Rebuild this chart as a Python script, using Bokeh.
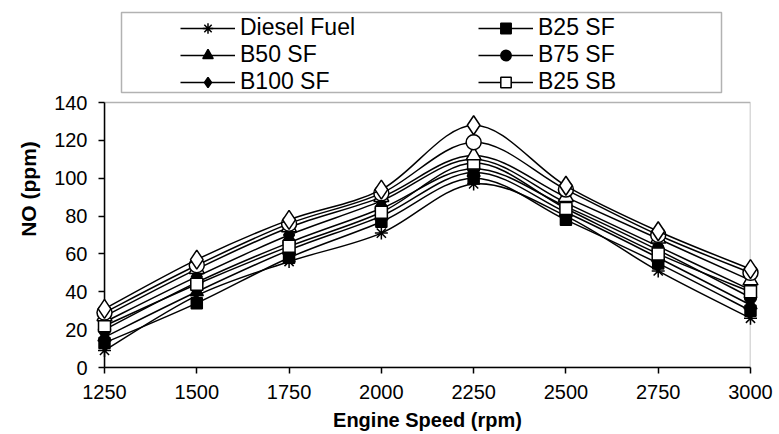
import numpy as np
from bokeh.plotting import figure
from bokeh.models import (Range1d, FixedTicker, Legend, LegendItem, BoxAnnotation,
                          ColumnDataSource, Title)
from bokeh.embed import file_html
from bokeh.resources import INLINE

# ---- data ----
speeds = [1250, 1500, 1750, 2000, 2250, 2500, 2750, 3000]
diesel_fuel = [9, 38, 56, 71, 97, 80, 51, 26]
b25_sf = [13, 34, 58, 77, 100, 78, 55, 30]
b50_sf = [16, 40, 62, 80, 103, 82, 58, 33]
b75_sf = [20, 45, 66, 84, 105, 85, 62, 37]
b100_sf = [24, 48, 70, 88, 110, 87, 64, 41]
b25_sb = [22, 44, 64, 82, 108, 84, 60, 40]
b50_sb = [27, 52, 74, 90, 112, 90, 68, 46]
b75_sb = [29, 54, 76, 92, 119, 94, 70, 50]
b100_sb = [31, 57, 78, 94, 128, 96, 72, 52]

series_names = ["Diesel Fuel", "B25 SF", "B50 SF", "B75 SF", "B100 SF",
                "B25 SB", "B50 SB", "B75 SB", "B100 SB"]
series_values = [diesel_fuel, b25_sf, b50_sf, b75_sf, b100_sf,
                 b25_sb, b50_sb, b75_sb, b100_sb]
legend_names = ["Diesel Fuel", "B25 SF", "B50 SF", "B75 SF", "B100 SF", "B25 SB"]

x_ticks = [1250, 1500, 1750, 2000, 2250, 2500, 2750, 3000]
y_ticks = [0, 20, 40, 60, 80, 100, 120, 140]
x_min, x_max = 1250, 3000
y_min, y_max = 0, 140

# ---- styles ----
styles = {
    "Diesel Fuel": dict(marker="asterisk", size=13, fill="black"),
    "B25 SF": dict(marker="square", size=11, fill="black"),
    "B50 SF": dict(marker="triangle", size=13, fill="black"),
    "B75 SF": dict(marker="circle", size=12, fill="black"),
    "B100 SF": dict(marker="diamond", size=16, fill="black"),
    "B25 SB": dict(marker="square", size=12, fill="white"),
    "B50 SB": dict(marker="triangle", size=15, fill="white"),
    "B75 SB": dict(marker="circle", size=15, fill="white"),
    "B100 SB": dict(marker="diamond", size=19, fill="white"),
}

FONT = "Liberation Sans"

# plot area: y 0..140 spans 265 px; frame extends 92 px above it for the legend
y_top = y_max + 92 * (y_max - y_min) / 265

p = figure(width=779, height=434,
           x_range=Range1d(x_min, x_max), y_range=Range1d(y_min, y_top),
           output_backend="svg", toolbar_location=None,
           min_border_left=104, min_border_right=29,
           min_border_top=10, min_border_bottom=67)
p.outline_line_color = None
p.grid.visible = False
p.background_fill_color = "white"
p.border_fill_color = "white"

# axes
xa = p.xaxis[0]
xa.ticker = FixedTicker(ticks=x_ticks)
xa.axis_label = "Engine Speed (rpm)"
ya = p.yaxis[0]
ya.ticker = FixedTicker(ticks=y_ticks)
ya.bounds = (y_min, y_max)
for ax in (xa, ya):
    ax.axis_line_color = "black"
    ax.axis_line_width = 1.5
    ax.major_tick_line_color = "black"
    ax.major_tick_line_width = 1.5
    ax.major_tick_in = 0
    ax.major_tick_out = 6
    ax.minor_tick_line_color = None
    ax.major_label_text_font = FONT
    ax.major_label_text_font_size = "20px"
    ax.major_label_text_color = "black"
    ax.axis_label_text_font = FONT
    ax.axis_label_text_font_size = "20px"
    ax.axis_label_text_font_style = "bold"
    ax.axis_label_text_color = "black"
xa.major_label_standoff = 11
xa.axis_label_standoff = 7
ya.major_label_standoff = 11

p.add_layout(Title(text="NO (ppm)", align="center", offset=-55,
                   text_font=FONT, text_font_size="21px", text_font_style="bold",
                   text_color="black", standoff=24), "left")

# plot area frame
p.add_layout(BoxAnnotation(left=x_min, right=x_max, bottom=y_min, top=y_max,
                           fill_alpha=0, line_color="black", line_width=1.5))


def smooth_segments(xs, ys):
    x = np.asarray(xs, float)
    y = np.asarray(ys, float)
    n = len(x)
    xp = np.concatenate([[x[0]], x, [x[-1]]])
    yp = np.concatenate([[y[0]], y, [y[-1]]])
    return dict(
        x0=x[:-1], y0=y[:-1], x1=x[1:], y1=y[1:],
        cx0=xp[1:n] + (xp[2:n + 1] - xp[0:n - 1]) / 6,
        cy0=yp[1:n] + (yp[2:n + 1] - yp[0:n - 1]) / 6,
        cx1=xp[2:n + 1] - (xp[3:n + 2] - xp[1:n]) / 6,
        cy1=yp[2:n + 1] - (yp[3:n + 2] - yp[1:n]) / 6,
    )


renderers = {}
for name, vals in zip(series_names, series_values):
    st = styles[name]
    seg = ColumnDataSource(smooth_segments(speeds, vals))
    lr = p.bezier(x0="x0", y0="y0", x1="x1", y1="y1", cx0="cx0", cy0="cy0",
                  cx1="cx1", cy1="cy1", source=seg, line_color="black",
                  line_width=1.5, level="overlay")
    sr = p.scatter(x=speeds, y=vals, marker=st["marker"], size=st["size"],
                   fill_color=st["fill"], line_color="black", line_width=1.5,
                   level="overlay")
    renderers[name] = [lr, sr]

# legend box (screen units, relative to the plot frame)
p.add_layout(BoxAnnotation(left=17, right=617, bottom=275, top=355,
                           left_units="screen", right_units="screen",
                           bottom_units="screen", top_units="screen",
                           fill_color="white", fill_alpha=1,
                           line_color="black", line_width=1.5))

legend = Legend(items=[LegendItem(label=n, renderers=renderers[n]) for n in legend_names],
                location=(76, 272), orientation="horizontal", ncols=2,
                padding=0, spacing=0, glyph_width=55, glyph_height=26,
                label_height=26, label_width=238, label_standoff=5,
                label_text_font=FONT, label_text_font_size="23px",
                label_text_color="black", border_line_alpha=0,
                background_fill_alpha=0)
p.add_layout(legend)

open("out.html", "w").write(file_html(p, INLINE))
